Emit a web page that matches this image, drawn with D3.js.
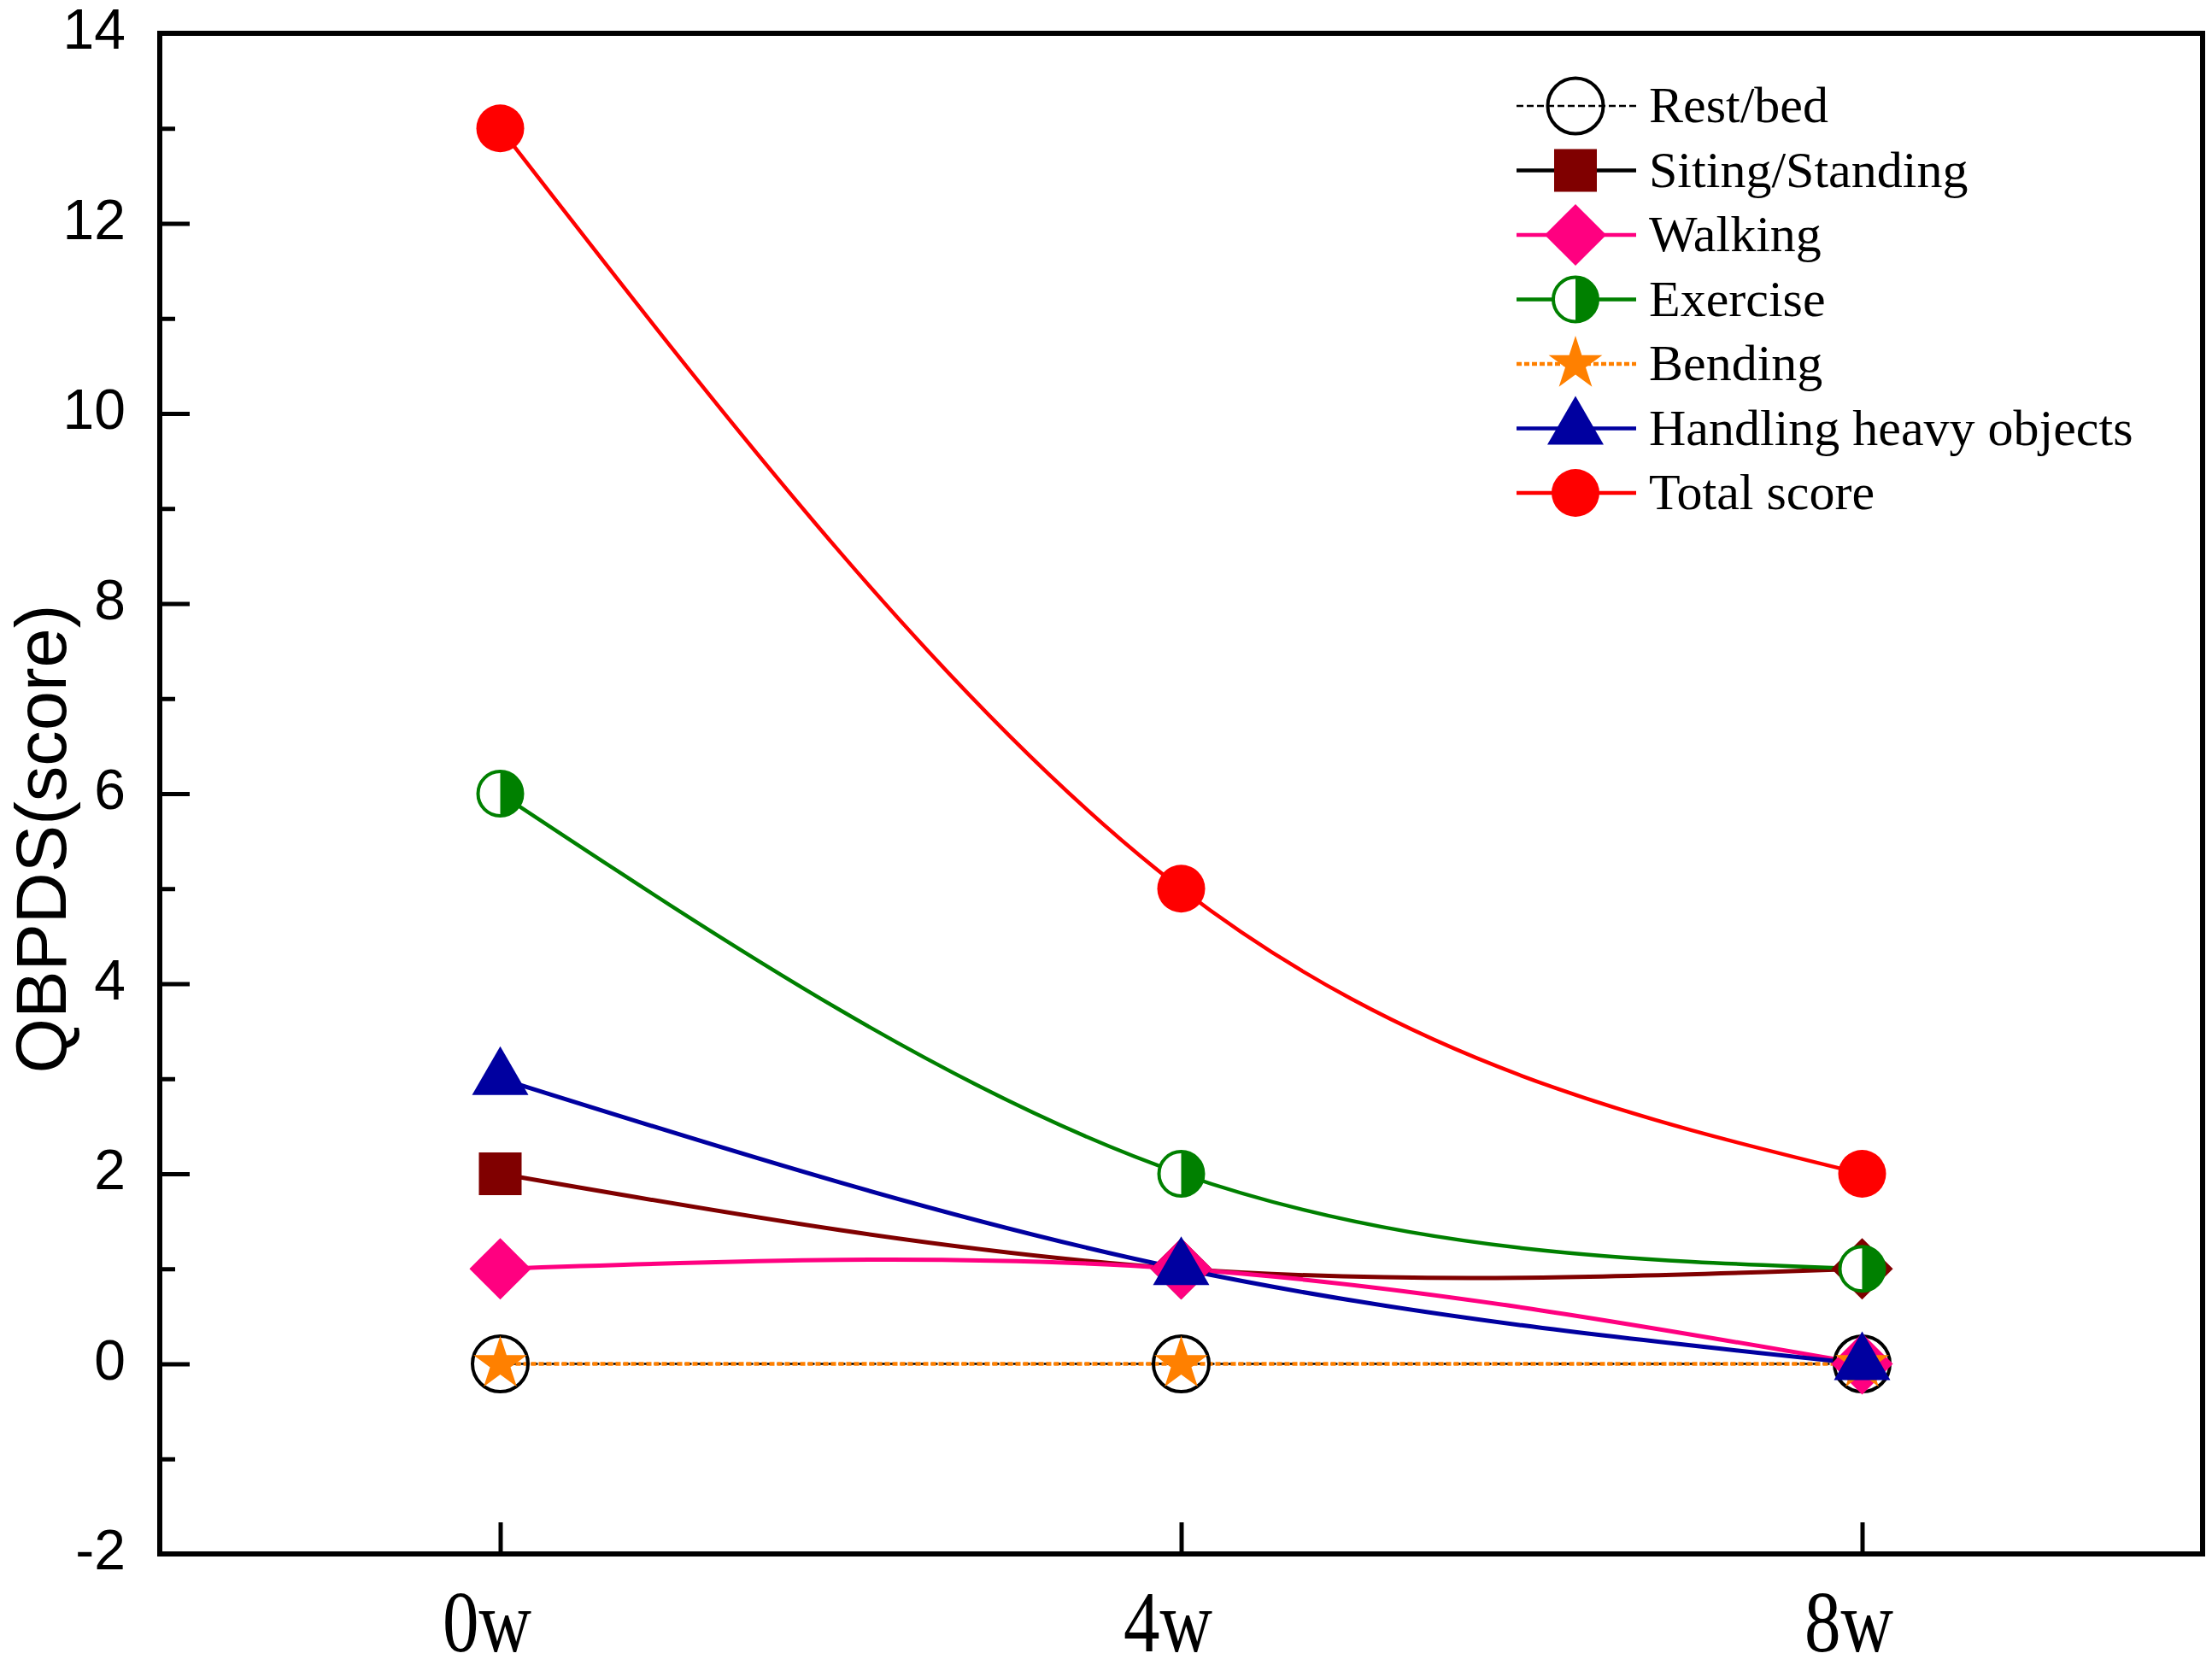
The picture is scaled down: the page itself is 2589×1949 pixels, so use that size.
<!DOCTYPE html>
<html>
<head>
<meta charset="utf-8">
<script src="https://cdn.jsdelivr.net/npm/d3@7"></script>
<style>
	body{margin:0;background:#fff;}
	svg{display:block;}
</style>
</head>
<body>
<div id="chart-area"></div>
<script>
//data
var weeks = [0, 4, 8];
var weekLabels = ["0w", "4w", "8w"];
var seriesNames = ["Rest/bed", "Siting/Standing", "Walking", "Exercise", "Bending", "Handling heavy objects", "Total score"];
var restBed = [0, 0, 0];
var sitingStanding = [2, 1, 1];
var walking = [1, 1, 0];
var exercise = [6, 2, 1];
var bending = [0, 0, 0];
var handling = [3, 1, 0];
var totalScore = [13, 5, 2];
var yTicks = [-2, 0, 2, 4, 6, 8, 10, 12, 14];
var yMinorTicks = [-1, 1, 3, 5, 7, 9, 11, 13];
var yLabelText = "QBPDS(score)";

//styles (same order as seriesNames)
var colors = ["#000000", "#800000", "#ff0080", "#008000", "#ff8000", "#0000a0", "#ff0000"];
var legendLineColors = ["#000000", "#000000", "#ff0080", "#008000", "#ff8000", "#0000a0", "#ff0000"];
var symbols = ["openCircle", "square", "diamond", "halfCircle", "star", "triangle", "circle"];
//the original draws the later Siting/Standing points as diamonds
var pointSymbols = {1: ["square", "diamond", "diamond"]};
var dashes = ["8,4", null, null, null, "6,3", null, null];
var lineWidths = [2.5, 5, 5, 4.5, 4.5, 5, 4.5];

var seriesValues = [restBed, sitingStanding, walking, exercise, bending, handling, totalScore];
var series = seriesNames.map(function(n, i){ return {name: n, values: seriesValues[i], idx: i}; });

//svg area
var svg_x = 2589;
var svg_y = 1949;
var margin = {left:187, right:11, top:39, bottom:130};
var width = svg_x - margin.left - margin.right;
var height = svg_y - margin.top - margin.bottom;

var svg = d3.select("#chart-area")
	.append("svg")
		.attr("width", svg_x)
		.attr("height", svg_y);
svg.append("rect").attr("width", svg_x).attr("height", svg_y).attr("fill", "#fff");

var g = svg.append("g")
	.attr("transform", "translate(" + margin.left + "," + margin.top + ")");

//scaling
var x = d3.scaleLinear().domain([-2, 10]).range([0, width]);
var y = d3.scaleLinear().domain([-2, 14]).range([height, 0]);

//axes, ticks point inward
var yAxisCall = d3.axisLeft(y)
	.tickValues(yTicks)
	.tickFormat(function(d){ return String(d); }) //plain hyphen for -2
	.tickSizeInner(-35)
	.tickSizeOuter(0)
	.tickPadding(40);
var yAxis = g.append("g").call(yAxisCall);
yAxis.select(".domain").remove();
yAxis.selectAll("line").attr("stroke-width", 5);
yAxis.selectAll("text")
	.attr("font-family", "Arial, 'Liberation Sans', sans-serif")
	.attr("font-size", 66)
	.attr("dy", "0.27em");

var yMinorCall = d3.axisLeft(y)
	.tickValues(yMinorTicks)
	.tickSizeInner(-18)
	.tickSizeOuter(0)
	.tickFormat("");
var yMinor = g.append("g").call(yMinorCall);
yMinor.select(".domain").remove();
yMinor.selectAll("line").attr("stroke-width", 5);

var xAxisCall = d3.axisBottom(x)
	.tickValues(weeks)
	.tickFormat(function(d, i){ return weekLabels[i]; })
	.tickSizeInner(-37)
	.tickSizeOuter(0)
	.tickPadding(42);
var xAxis = g.append("g")
	.attr("transform", "translate(0," + height + ")")
	.call(xAxisCall);
xAxis.select(".domain").remove();
xAxis.selectAll("line").attr("stroke-width", 5);
xAxis.selectAll("text")
	.attr("font-family", "'Times New Roman', 'Liberation Serif', serif")
	.attr("font-size", 102)
	.attr("textLength", 104)
	.attr("lengthAdjust", "spacingAndGlyphs")
	.attr("dx", -16);

//frame
g.append("rect")
	.attr("width", width)
	.attr("height", height)
	.attr("fill", "none")
	.attr("stroke", "#000")
	.attr("stroke-width", 6);

//y label
svg.append("text")
	.attr("transform", "translate(77,982) rotate(-90)")
	.attr("text-anchor", "middle")
	.attr("font-family", "Arial, 'Liberation Sans', sans-serif")
	.attr("font-size", 83)
	.text(yLabelText);

//marker drawing
function drawMarker(parent, type, color){
	if (type === "openCircle") {
		parent.append("circle").attr("r", 32.5).attr("fill", "none")
			.attr("stroke", color).attr("stroke-width", 4);
	} else if (type === "halfCircle") {
		var r = 26;
		parent.append("circle").attr("r", r).attr("fill", "#fff")
			.attr("stroke", color).attr("stroke-width", 4);
		parent.append("path")
			.attr("d", "M0," + (-r) + "A" + r + "," + r + " 0 0 1 0," + r + "Z")
			.attr("fill", color);
	} else if (type === "circle") {
		parent.append("path").attr("d", d3.symbol(d3.symbolCircle, Math.PI * 28 * 28)()).attr("fill", color);
	} else if (type === "square") {
		parent.append("path").attr("d", d3.symbol(d3.symbolSquare, 2500)()).attr("fill", color);
	} else if (type === "diamond") {
		parent.append("path").attr("d", d3.symbol(d3.symbolSquare, 2601)())
			.attr("transform", "rotate(45)").attr("fill", color);
	} else if (type === "star") {
		parent.append("path").attr("d", d3.symbol(d3.symbolStar, 1222)()).attr("fill", color);
	} else if (type === "triangle") {
		parent.append("path").attr("d", d3.symbol(d3.symbolTriangle, 1886)()).attr("fill", color);
	}
}

//lines (natural cubic spline like the original)
var line = d3.line()
	.x(function(d, i){ return x(weeks[i]); })
	.y(function(d){ return y(d); })
	.curve(d3.curveNatural);

g.selectAll(".series-line")
	.data(series)
	.enter()
	.append("path")
		.attr("class", "series-line")
		.attr("d", function(d){ return line(d.values); })
		.attr("fill", "none")
		.attr("stroke", function(d){ return colors[d.idx]; })
		.attr("stroke-width", function(d){ return lineWidths[d.idx]; })
		.attr("stroke-dasharray", function(d){ return dashes[d.idx]; });

//markers, drawn in series order
series.forEach(function(s){
	s.values.forEach(function(v, i){
		var m = g.append("g")
			.attr("transform", "translate(" + x(weeks[i]) + "," + y(v) + ")");
		var type = pointSymbols[s.idx] ? pointSymbols[s.idx][i] : symbols[s.idx];
		drawMarker(m, type, colors[s.idx]);
	});
});

//legend
var legend = svg.append("g").attr("transform", "translate(1775,124)");
var rowGap = 75.5;
series.forEach(function(s, i){
	var row = legend.append("g").attr("transform", "translate(0," + (i * rowGap) + ")");
	row.append("line")
		.attr("x1", 0).attr("x2", 140)
		.attr("stroke", legendLineColors[i])
		.attr("stroke-width", i === 0 ? 2.5 : 4.5)
		.attr("stroke-dasharray", dashes[i]);
	var m = row.append("g").attr("transform", "translate(69,0)");
	drawMarker(m, symbols[i], colors[i]);
	row.append("text")
		.attr("x", 155)
		.attr("y", 19)
		.attr("font-family", "'Times New Roman', 'Liberation Serif', serif")
		.attr("font-size", 60)
		.text(s.name);
});
</script>
</body>
</html>
